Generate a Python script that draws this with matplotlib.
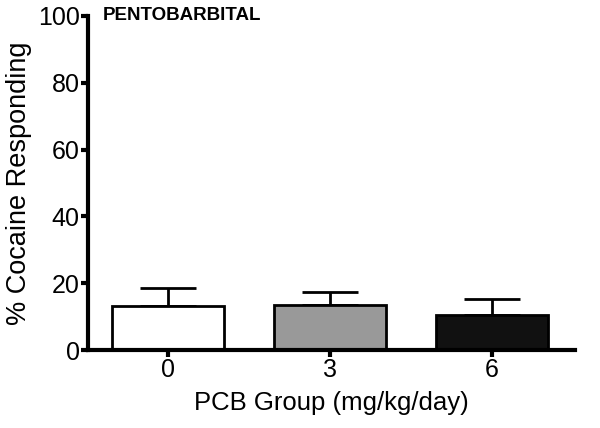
import numpy as np
from matplotlib import pyplot as plt

plt.rcParams['font.family'] = ['Liberation Sans', 'DejaVu Sans']

groups = ['0', '3', '6']
means = [13.3, 13.6, 10.5]
sems = [5.4, 3.9, 4.8]
colors = ['white', '#999999', '#111111']

fig = plt.figure(figsize=(6, 4.28), dpi=100)
ax = fig.add_axes([0.147, 0.182, 0.811, 0.781])

x = np.arange(len(groups))
ax.bar(x, means, width=0.69, color=colors, edgecolor='black', linewidth=2, zorder=2)
ax.errorbar(x, means, yerr=[np.zeros(3), sems], fmt='none', ecolor='black',
            elinewidth=2, capsize=20, capthick=2, zorder=1)

ax.set_xlim(-0.49, 2.51)
ax.set_ylim(0, 100)
ax.set_yticks([0, 20, 40, 60, 80, 100])
ax.set_xticks(x)
ax.set_xticklabels(groups)

for side in ['top', 'right']:
    ax.spines[side].set_visible(False)
for side in ['left', 'bottom']:
    ax.spines[side].set_linewidth(3)

ax.tick_params(axis='both', width=3, length=5, labelsize=18, pad=1)
ax.set_xlabel('PCB Group (mg/kg/day)', fontsize=18.5, labelpad=6)
ax.set_ylabel('% Cocaine Responding', fontsize=19.5, labelpad=4)
ax.text(0.03, 1.0, 'PENTOBARBITAL', transform=ax.transAxes, fontsize=13.5,
        fontweight='bold', va='center', ha='left')

plt.savefig('out.png', dpi=100)
